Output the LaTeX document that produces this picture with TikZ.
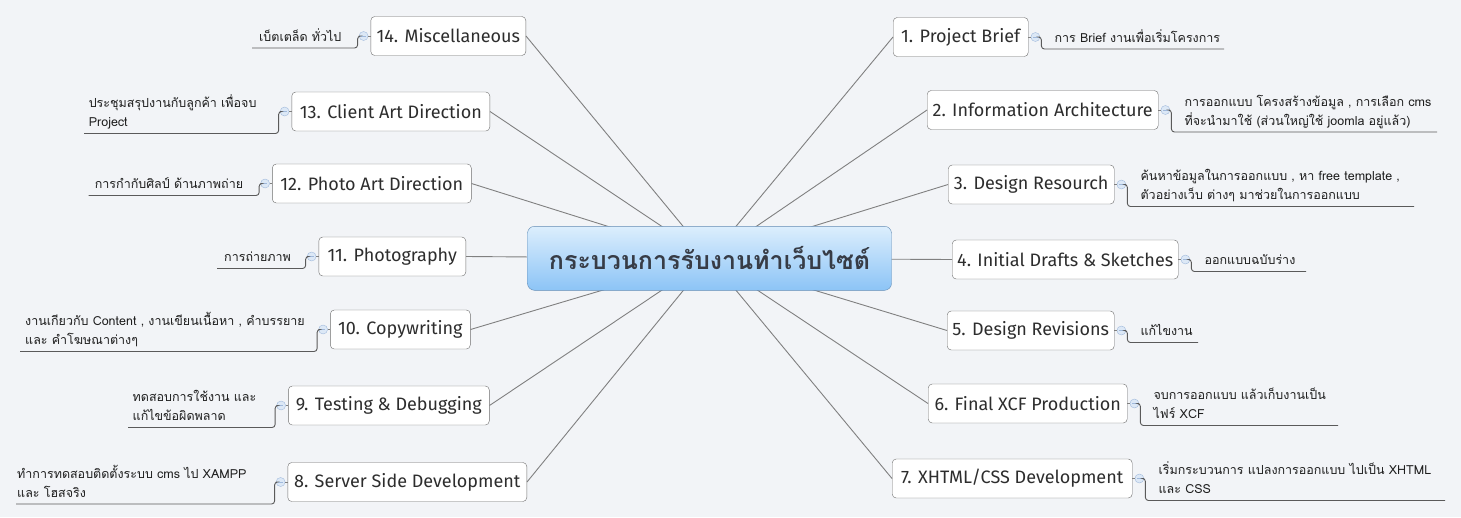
\documentclass[tikz,border=0pt]{standalone}
\usepackage{fontspec}
\setmainfont{Fira Sans}
\newfontfamily\thaifont[Script=Thai]{Loma}
\usetikzlibrary{calc}

\definecolor{bgcol}{RGB}{242,244,247}
\definecolor{boxline}{RGB}{110,110,110}
\definecolor{textcol}{RGB}{45,45,45}
\definecolor{spokecol}{RGB}{128,128,128}
\definecolor{hookcol}{RGB}{90,90,90}
\definecolor{knobline}{RGB}{160,185,220}
\definecolor{knobfill}{RGB}{220,232,246}
\definecolor{hubtop}{RGB}{220,238,253}
\definecolor{hubbot}{RGB}{140,196,246}
\definecolor{hubline}{RGB}{100,140,180}
\definecolor{hubtext}{RGB}{55,60,70}
\definecolor{notetext}{RGB}{30,30,30}

\tikzset{
  topic/.style={draw=boxline, fill=white, rounded corners=4pt, minimum height=39, inner sep=0pt, text=textcol, font=\fontsize{18}{21}\selectfont},
  hub/.style={draw=hubline, rounded corners=7pt, top color=hubtop, bottom color=hubbot, minimum width=364, minimum height=64, text=hubtext, font=\thaifont\bfseries\fontsize{25}{30}\selectfont},
  knob/.style={circle, draw=knobline, fill=knobfill, minimum size=9, inner sep=0pt},
  spoke/.style={draw=spokecol, line width=0.9pt},
  stem/.style={draw=spokecol, line width=0.8pt},
  hook/.style={draw=hookcol, line width=0.9pt, rounded corners=3pt},
  note/.style={inner sep=0pt, align=left, text=notetext, font=\thaifont\fontsize{12.5}{19}\selectfont}
}

\begin{document}
\begin{tikzpicture}[x=1pt,y=-1pt]
\fill[bgcol] (0,0) rectangle (1461,517);
\coordinate (hubc) at (709.5,258.3);

% right branch
\foreach \i/\x/\y/\w/\e/\du/\lbl/\txt in {
 1/893/37/135/1224/12/{1. Project Brief}/{การ Brief งานเพื่อเริ่มโครงการ},
 2/927/110/231/1437/22/{2. Information Architecture}/{การออกแบบ โครงสร้างข้อมูล , การเลือก cms\\ที่จะนำมาใช้ (ส่วนใหญ่ใช้ joomla อยู่แล้ว)},
 3/948/184.5/166/1414/22/{3. Design Resourch}/{ค้นหาข้อมูลในการออกแบบ , หา free template ,\\ตัวอย่างเว็บ ต่างๆ มาช่วยในการออกแบบ},
 4/952/259.5/226/1306/12/{4. Initial Drafts \& Sketches}/{ออกแบบฉบับร่าง},
 5/947/330.5/167/1198/12/{5. Design Revisions}/{แก้ไขงาน},
 6/928/403.5/199/1338/22/{6. Final XCF Production}/{จบการออกแบบ แล้วเก็บงานเป็น\\ไฟร์ XCF},
 7/892/478.5/240/1445/22/{7. XHTML/CSS Development}/{เริ่มกระบวนการ แปลงการออกแบบ ไปเป็น XHTML\\และ CSS}}
{
 \node[topic, anchor=west, minimum width=\w] (t\i) at (\x,\y) {\lbl};
 \draw[spoke] (hubc) -- (t\i.west);
 \node[knob] (k\i) at ($(t\i.east)+(7,0)$) {};
 \draw[stem] (t\i.east) -- (k\i.west);
 \draw[knobline, line width=0.8pt] ($(k\i)+(-2.2,0)$) -- ($(k\i)+(2.2,0)$);
 \coordinate (ua\i) at ($(t\i.east)+(13,\du)$);
 \coordinate (ub\i) at (\e,\y+\du);
 \draw[hook] (k\i.east) -| (ua\i) -- (ub\i);
 \node[note, anchor=base west] (n\i) at ($(t\i.east)+(26,\du-7)$) {\txt};
}

% left branch
\foreach \i/\x/\y/\w/\e/\tx/\du/\lbl/\txt in {
 14/526/36/155/252/259/12/{14. Miscellaneous}/{เบ็ตเตล็ด ทั่วไป},
 13/490/111.5/198/84/88.6/22/{13. Client Art Direction}/{ประชุมสรุปงานกับลูกค้า เพื่อจบ\\Project},
 12/471.5/183.5/199/88.6/94.7/12/{12. Photo Art Direction}/{การกำกับศิลป์ ด้านภาพถ่าย},
 11/466/256.5/147/217/224/12/{11. Photography}/{การถ่ายภาพ},
 10/470.5/329.5/140/20/25/22/{10. Copywriting}/{งานเกียวกับ Content , งานเขียนเนื้อหา , คำบรรยาย\\และ คำโฆษณาต่างๆ},
 9/489.5/405.5/201/128/132.5/22/{9. Testing \& Debugging}/{ทดสอบการใช้งาน และ\\แก้ไขข้อผิดพลาด},
 8/527/482/239/16/17/22/{8. Server Side Development}/{ทำการทดสอบติดตั้งระบบ cms ไป XAMPP\\และ โฮสจริง}}
{
 \node[topic, anchor=east, minimum width=\w] (t\i) at (\x,\y) {\lbl};
 \draw[spoke] (hubc) -- (t\i.east);
 \node[knob] (k\i) at ($(t\i.west)+(-7,0)$) {};
 \draw[stem] (t\i.west) -- (k\i.east);
 \draw[knobline, line width=0.8pt] ($(k\i)+(-2.2,0)$) -- ($(k\i)+(2.2,0)$);
 \coordinate (ua\i) at ($(t\i.west)+(-13,\du)$);
 \coordinate (ub\i) at (\e,\y+\du);
 \draw[hook] (k\i.west) -| (ua\i) -- (ub\i);
 \node[note, anchor=base west] (n\i) at (\tx,\y+\du-7) {\txt};
}

\node[hub] (hub) at (hubc) {กระบวนการรับงานทำเว็บไซต์};
\end{tikzpicture}
\end{document}
